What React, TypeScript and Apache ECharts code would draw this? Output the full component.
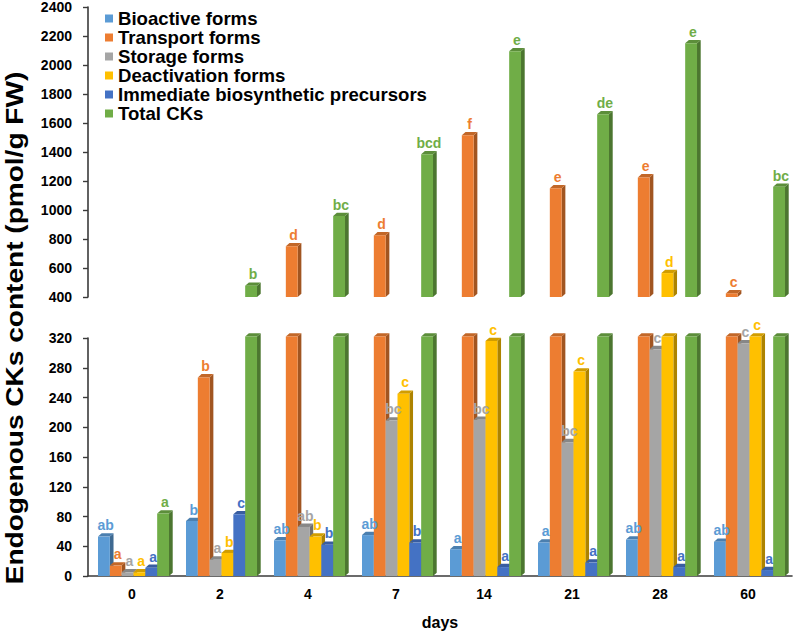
import React, { useEffect, useRef } from "react";
import * as echarts from "echarts";

const days = ["0", "2", "4", "7", "14", "21", "28", "60"];

const seriesNames = [
  "Bioactive forms",
  "Transport forms",
  "Storage forms",
  "Deactivation forms",
  "Immediate biosynthetic precursors",
  "Total CKs",
];
const seriesColors = ["#5B9BD5", "#ED7D31", "#A5A5A5", "#FFC000", "#4472C4", "#70AD47"];

const bioactive = [53, 74, 48, 55, 36, 45, 49, 46];
const transport = [14, 267, 750, 825, 1515, 1150, 1225, 425];
const storage = [5, 22, 66, 209, 210, 180, 305, 313];
const deactivation = [5, 31, 53, 245, 316, 275, 565, 360];
const precursors = [11, 83, 42, 45, 12, 18, 12, 8];
const totalCKs = [84, 478, 958, 1385, 2095, 1660, 2150, 1160];

const bioactiveLetters = ["ab", "b", "ab", "ab", "a", "a", "ab", "ab"];
const transportLetters = ["a", "b", "d", "d", "f", "e", "e", "c"];
const storageLetters = ["a", "a", "ab", "bc", "bc", "bc", "c", "c"];
const deactivationLetters = ["a", "b", "b", "c", "c", "c", "d", "c"];
const precursorLetters = ["a", "c", "b", "b", "a", "a", "a", "a"];
const totalLetters = ["a", "b", "bc", "bcd", "e", "de", "e", "bc"];

const lowerTicks = { min: 0, max: 320, interval: 40 };
const upperTicks = { min: 400, max: 2400, interval: 200 };

const allValues = [bioactive, transport, storage, deactivation, precursors, totalCKs];
const allLetters = [
  bioactiveLetters,
  transportLetters,
  storageLetters,
  deactivationLetters,
  precursorLetters,
  totalLetters,
];

const FONT = '"Liberation Sans", Arial, sans-serif';

function shade(hex: string, f: number) {
  const n = parseInt(hex.slice(1), 16);
  const r = Math.round(((n >> 16) & 255) * f);
  const g = Math.round(((n >> 8) & 255) * f);
  const b = Math.round((n & 255) * f);
  return `rgb(${r},${g},${b})`;
}

function makeSeries(idx: number, part: "low" | "high") {
  const vals = allValues[idx];
  const letters = allLetters[idx];
  const color = seriesColors[idx];
  const clipTop = lowerTicks.max + 2;
  const data: number[][] = [];
  vals.forEach((v, i) => {
    if (part === "low") data.push([i, Math.min(v, clipTop), v]);
    else if (v > upperTicks.min) data.push([i, v, v]);
  });
  return {
    type: "custom",
    name: seriesNames[idx],
    xAxisIndex: part === "low" ? 1 : 0,
    yAxisIndex: part === "low" ? 1 : 0,
    itemStyle: { color },
    encode: { x: 0, y: 1 },
    data,
    renderItem: (params: any, api: any) => {
      const cat = api.value(0);
      const v = api.value(1);
      const raw = api.value(2);
      const band = api.size([1, 0])[0];
      const slot = band * 0.1345;
      const dx = 3.7;
      const dy = 3.3;
      const top = api.coord([cat, v]);
      const base = api.coord([cat, part === "low" ? lowerTicks.min : upperTicks.min]);
      const x0 = top[0] - 3 * slot + idx * slot + 1.5;
      const x1 = x0 + slot;
      const y = top[1];
      const by = base[1];
      const children: any[] = [
        {
          type: "polygon",
          z2: idx * 3,
          shape: { points: [[x1, y], [x1 + dx, y - dy], [x1 + dx, by - dy], [x1, by]] },
          style: { fill: shade(color, 0.68) },
        },
        {
          type: "polygon",
          z2: idx * 3 + 1,
          shape: { points: [[x0, y], [x0 + dx, y - dy], [x1 + dx, y - dy], [x1, y]] },
          style: { fill: shade(color, 0.82) },
        },
        {
          type: "rect",
          z2: idx * 3 + 2,
          shape: { x: x0, y, width: slot, height: by - y },
          style: { fill: color },
        },
      ];
      const showLabel = part === "low" ? raw < upperTicks.min : true;
      if (showLabel) {
        children.push({
          type: "text",
          z2: 100,
          style: {
            text: letters[cat],
            x: (x0 + x1 + dx) / 2,
            y: y - dy - 1,
            align: "center",
            verticalAlign: "bottom",
            textAlign: "center",
            textVerticalAlign: "bottom",
            fill: color,
            font: `bold 14px ${FONT}`,
          },
        });
      }
      return { type: "group", children };
    },
  };
}

export default function App() {
  const ref = useRef<HTMLDivElement>(null);
  useEffect(() => {
    if (!ref.current) return;
    const chart = echarts.init(ref.current, undefined, { renderer: "svg" });
    const axisLine = { show: true, lineStyle: { color: "#3a3a3a", width: 1.6 } };
    const yLabel = {
      fontSize: 14,
      fontWeight: "bold",
      color: "#000",
      fontFamily: FONT,
      margin: 16,
      formatter: (v: number) => String(v),
    };
    const series: any[] = [];
    for (let i = 0; i < 6; i++) series.push(makeSeries(i, "low"));
    for (let i = 0; i < 6; i++) series.push(makeSeries(i, "high"));
    chart.setOption({
      animation: false,
      backgroundColor: "#fff",
      legend: {
        data: seriesNames,
        orient: "vertical",
        left: 100,
        top: 4,
        itemWidth: 8,
        itemHeight: 8,
        itemGap: 0,
        icon: "rect",
        textStyle: { fontSize: 18.6, fontWeight: "bold", color: "#000", fontFamily: FONT, lineHeight: 19 },
      },
      grid: [
        { left: 88, right: 2, top: 6, height: 291 },
        { left: 88, right: 2, top: 338, height: 245 },
      ],
      xAxis: [
        { type: "category", gridIndex: 0, data: days, show: false },
        {
          type: "category",
          gridIndex: 1,
          data: days,
          axisLine,
          axisTick: { show: false },
          axisLabel: { fontSize: 14, fontWeight: "bold", color: "#000", fontFamily: FONT, margin: 11 },
          name: "days",
          nameLocation: "middle",
          nameGap: 38,
          nameTextStyle: { fontSize: 16, fontWeight: "bold", color: "#000", fontFamily: FONT },
        },
      ],
      yAxis: [
        {
          type: "value",
          gridIndex: 0,
          min: upperTicks.min,
          max: upperTicks.max,
          interval: upperTicks.interval,
          axisLine,
          axisTick: { show: true, length: 5, lineStyle: { color: "#3a3a3a", width: 1.4 } },
          splitLine: { show: false },
          axisLabel: yLabel,
        },
        {
          type: "value",
          gridIndex: 1,
          min: lowerTicks.min,
          max: lowerTicks.max,
          interval: lowerTicks.interval,
          axisLine,
          axisTick: { show: true, length: 5, lineStyle: { color: "#3a3a3a", width: 1.4 } },
          splitLine: { show: false },
          axisLabel: yLabel,
        },
      ],
      graphic: [
        {
          type: "text",
          x: 15,
          y: 328,
          rotation: Math.PI / 2,
          scaleX: 1.22,
          style: {
            text: "Endogenous CKs content (pmol/g FW)",
            font: `bold 23px ${FONT}`,
            fill: "#000",
            align: "center",
            verticalAlign: "middle",
            textAlign: "center",
            textVerticalAlign: "middle",
          },
        },
      ],
      series,
    });
    return () => chart.dispose();
  }, []);
  return (
    <div
      ref={ref}
      style={{ position: "fixed", left: 0, top: 0, width: 794, height: 631, background: "#fff" }}
    />
  );
}
